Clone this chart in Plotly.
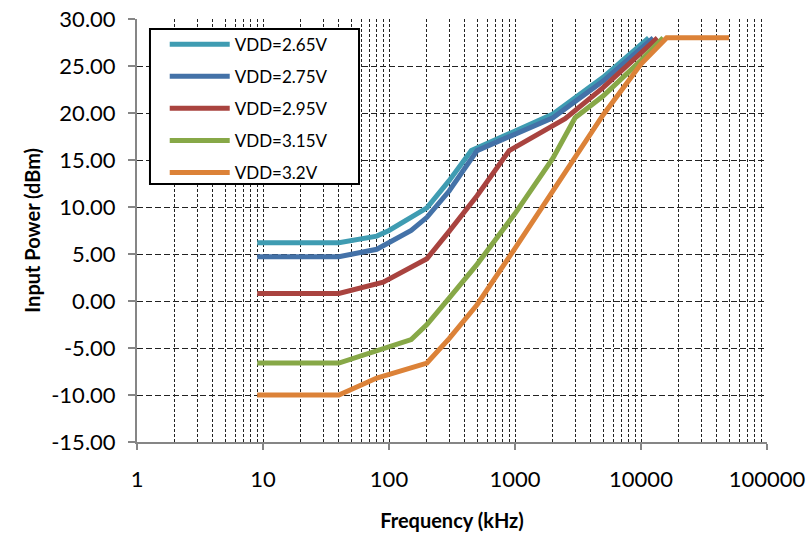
import plotly.graph_objects as go

# Data (frequency in kHz, input power in dBm)
f_265 = [9, 40, 80, 100, 200, 300, 450, 2000, 5000, 11500]
p_265 = [6.2, 6.2, 6.9, 7.5, 9.9, 12.8, 16.0, 19.9, 23.8, 28.0]

f_275 = [9, 40, 80, 150, 200, 300, 500, 2000, 5000, 12500]
p_275 = [4.7, 4.7, 5.5, 7.5, 8.9, 11.7, 16.0, 19.5, 23.4, 28.0]

f_295 = [9, 40, 90, 200, 300, 500, 900, 2500, 5000, 13500]
p_295 = [0.8, 0.8, 2.0, 4.5, 7.4, 11.2, 16.0, 19.4, 22.7, 28.0]

f_315 = [9, 40, 150, 200, 300, 500, 1000, 2000, 3000, 5000, 10000, 15000]
p_315 = [-6.6, -6.6, -4.1, -2.5, 0.3, 3.9, 9.3, 15.2, 19.5, 21.8, 25.6, 28.0]

f_320 = [9, 40, 80, 200, 300, 500, 1000, 2000, 5000, 10000, 16000, 50000]
p_320 = [-10.0, -10.0, -8.2, -6.6, -4.0, -0.4, 5.6, 11.8, 19.8, 25.2, 28.0, 28.0]

names = ["VDD=2.65V", "VDD=2.75V", "VDD=2.95V", "VDD=3.15V", "VDD=3.2V"]
colors = ["#3F9CB2", "#4472A8", "#A9433F", "#87A847", "#DC8238"]
series = [(f_265, p_265), (f_275, p_275), (f_295, p_295), (f_315, p_315), (f_320, p_320)]

x_tickvals = [1, 10, 100, 1000, 10000, 100000]
x_ticktext = ["1", "10", "100", "1000", "10000", "100000"]
y_tickvals = [-15, -10, -5, 0, 5, 10, 15, 20, 25, 30]
y_ticktext = ["-15.00", "-10.00", "-5.00", "0.00", "5.00", "10.00", "15.00", "20.00", "25.00", "30.00"]

FONT = "Lato, 'Open Sans', sans-serif"

fig = go.Figure()
for (fx, py), nm, c in zip(series, names, colors):
    fig.add_trace(go.Scatter(
        x=fx, y=py, mode="lines", name=nm, legendgroup=nm,
        line=dict(color=c, width=5),
    ))

# legend frame (white box with black border behind the legend entries)
fig.add_shape(type="rect", xref="paper", yref="paper",
              x0=0.0206, x1=0.3524, y0=0.6099, y1=0.9764,
              fillcolor="white", line=dict(color="black", width=2), layer="above")

fig.update_layout(
    width=809, height=533,
    margin=dict(l=137, r=42, t=19, b=91, autoexpand=False),
    paper_bgcolor="white", plot_bgcolor="white",
    font=dict(family=FONT, size=22, color="black"),
    showlegend=True,
    legend=dict(
        x=0.044, y=0.982, xanchor="left", yanchor="top",
        borderwidth=0, bgcolor="rgba(0,0,0,0)",
        font=dict(family=FONT, size=17, color="black"),
        tracegroupgap=7, itemwidth=60,
    ),
    xaxis=dict(
        type="log", range=[0, 5], automargin=False,
        tickvals=x_tickvals, ticktext=x_ticktext,
        showline=True, linecolor="#868686", linewidth=2,
        ticks="outside", ticklen=6, tickcolor="#868686", tickwidth=2,
        ticklabelstandoff=11, ticklabeloverflow="allow",
        showgrid=True, gridcolor="#222222", gridwidth=1, griddash="3px,2px",
        minor=dict(dtick="D1", showgrid=True, gridcolor="#222222", gridwidth=1,
                   griddash="3px,2px", ticks=""),
        zeroline=False,
        title=dict(text="<b>Frequency (kHz)</b>", font=dict(family=FONT, size=20), standoff=23),
        tickfont=dict(family=FONT, size=22),
    ),
    yaxis=dict(
        range=[-15, 30], automargin=False,
        tickvals=y_tickvals, ticktext=y_ticktext,
        showline=True, linecolor="#868686", linewidth=2,
        ticks="outside", ticklen=7, tickcolor="#868686", tickwidth=2,
        ticklabelstandoff=8, ticklabeloverflow="allow",
        showgrid=True, gridcolor="#222222", gridwidth=1, griddash="6px,3px",
        zeroline=False,
        title=dict(text="", font=dict(family=FONT, size=20)),
        tickfont=dict(family=FONT, size=22),
    ),
    annotations=[dict(
        text="<b>Input Power (dBm)</b>", xref="paper", yref="paper",
        x=-0.168, y=0.5, xanchor="center", yanchor="middle",
        textangle=-90, showarrow=False, font=dict(family=FONT, size=20),
    )],
)

fig.write_html("out.html", config={"displayModeBar": False},
               post_script="document.body.style.margin='0';")
